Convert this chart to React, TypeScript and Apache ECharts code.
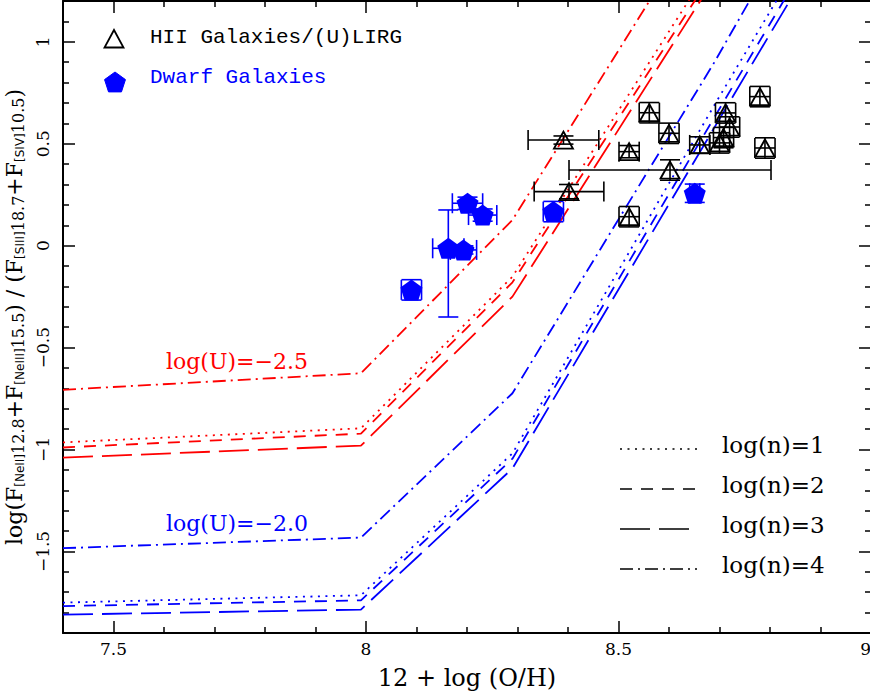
import React, { useEffect, useRef } from 'react';
import * as echarts from 'echarts';

// Photoionization model grid: 12+log(O/H)
const modelOH = [7.4, 7.99, 8.29, 8.69, 8.99];
// log(U) = -2.5 (red)
const redN1 = [-0.965, -0.896, -0.152, 1.40, 2.6];
const redN2 = [-0.99, -0.922, -0.18, 1.35, 2.55];
const redN3 = [-1.04, -0.981, -0.25, 1.31, 2.5];
const redN4 = [-0.707, -0.626, 0.126, 1.71, 2.9];
// log(U) = -2.0 (blue)
const blueN1 = [-1.751, -1.715, -1.019, 0.69, 1.94];
const blueN2 = [-1.768, -1.74, -1.045, 0.63, 1.88];
const blueN3 = [-1.81, -1.785, -1.093, 0.58, 1.83];
const blueN4 = [-1.484, -1.432, -0.724, 0.9, 2.2];

// HII Galaxies / (U)LIRG
const hiiX = [8.391, 8.402, 8.521, 8.521, 8.561, 8.6, 8.602, 8.661, 8.7, 8.708, 8.712, 8.72, 8.78, 8.79];
const hiiY = [0.518, 0.265, 0.461, 0.142, 0.652, 0.551, 0.371, 0.494, 0.504, 0.53, 0.651, 0.582, 0.731, 0.479];
const hiiXErr = [0.07, 0.069, 0.02, 0.02, 0.02, 0.02, 0.2, 0.02, 0.02, 0.02, 0.02, 0.02, 0.02, 0.02];
const hiiYErr = [0.02, 0.035, 0.03, 0.05, 0.05, 0.05, 0.05, 0.04, 0.05, 0.05, 0.05, 0.05, 0.05, 0.05];

// Dwarf galaxies
const dwarfX = [8.09, 8.163, 8.193, 8.201, 8.231, 8.371, 8.651];
const dwarfY = [-0.217, -0.013, -0.021, 0.208, 0.15, 0.167, 0.257];
const dwarfXErr = [0.02, 0.031, 0.026, 0.03, 0.028, 0.02, 0.01];
const dwarfYErrLo = [0.05, 0.337, 0.02, 0.03, 0.03, 0.05, 0.045];
const dwarfYErrHi = [0.05, 0.188, 0.02, 0.03, 0.03, 0.05, 0.045];

const legendLabels = ['log(n)=1', 'log(n)=2', 'log(n)=3', 'log(n)=4'];

const RED = '#ff0000';
const BLUE = '#0000ff';
const DOT = [2, 5.5];
const DASH = [12, 9];
const LONG = [30, 9];
const DASHDOT = [13, 5, 2, 5];
const dashes = [DOT, DASH, LONG, DASHDOT];

const SERIF = '"DejaVu Serif", serif';

const fmt = (v: number) => {
  const r = Math.round(v * 2) / 2;
  if (Math.abs(v - r) > 1e-6) return '';
  return String(r).replace('-', '\u2212');
};

const tickCommon = {
  axisLine: { show: true, onZero: false, lineStyle: { color: '#000', width: 2 } },
  axisTick: { show: true, inside: true, length: 12, lineStyle: { color: '#000', width: 1.5 } },
  minorTick: { show: true, splitNumber: 5, length: 6, lineStyle: { color: '#000', width: 1.5 } },
  splitLine: { show: false },
  minorSplitLine: { show: false },
};

function errorSeries(data: number[][], color: string, z: number) {
  return {
    type: 'custom',
    data,
    encode: { x: 0, y: 1 },
    z,
    silent: true,
    renderItem: (_p: any, api: any) => {
      const x = api.value(0);
      const y = api.value(1);
      const l = api.coord([api.value(2), y]);
      const r = api.coord([api.value(3), y]);
      const b = api.coord([x, api.value(4)]);
      const t = api.coord([x, api.value(5)]);
      const cap = 10;
      const style = { stroke: color, lineWidth: 1.6, fill: 'none' };
      const ln = (x1: number, y1: number, x2: number, y2: number) => ({
        type: 'line',
        shape: { x1, y1, x2, y2 },
        style,
      });
      return {
        type: 'group',
        children: [
          ln(l[0], l[1], r[0], r[1]),
          ln(l[0], l[1] - cap, l[0], l[1] + cap),
          ln(r[0], r[1] - cap, r[0], r[1] + cap),
          ln(b[0], b[1], t[0], t[1]),
          ln(b[0] - cap, b[1], b[0] + cap, b[1]),
          ln(t[0] - cap, t[1], t[0] + cap, t[1]),
        ],
      };
    },
  };
}

export default function App() {
  const ref = useRef<HTMLDivElement>(null);
  useEffect(() => {
    const chart = echarts.init(ref.current!, null, { renderer: 'svg' });

    const curves = [
      { d: redN1, c: RED, t: DOT },
      { d: redN2, c: RED, t: DASH },
      { d: redN3, c: RED, t: LONG },
      { d: redN4, c: RED, t: DASHDOT },
      { d: blueN1, c: BLUE, t: DOT },
      { d: blueN2, c: BLUE, t: DASH },
      { d: blueN3, c: BLUE, t: LONG },
      { d: blueN4, c: BLUE, t: DASHDOT },
    ];

    const lineSeries = curves.map((cv) => ({
      type: 'line',
      data: modelOH.map((x, i) => [x, cv.d[i]]),
      symbol: 'none',
      silent: true,
      clip: true,
      z: 2,
      lineStyle: { color: cv.c, width: 1.8, type: cv.t, cap: 'butt' },
    }));

    const hiiErr = hiiX.map((x, i) => [x, hiiY[i], x - hiiXErr[i], x + hiiXErr[i], hiiY[i] - hiiYErr[i], hiiY[i] + hiiYErr[i]]);
    const dwarfErr = dwarfX.map((x, i) => [x, dwarfY[i], x - dwarfXErr[i], x + dwarfXErr[i], dwarfY[i] - dwarfYErrLo[i], dwarfY[i] + dwarfYErrHi[i]]);

    const pent = (cx: number, cy: number, r: number) =>
      [0, 1, 2, 3, 4].map((k) => {
        const a = (-90 + 72 * k) * (Math.PI / 180);
        return [cx + r * Math.cos(a), cy + r * Math.sin(a)];
      });

    const legendY = [445, 485, 525, 565];
    const graphics: any[] = [
      {
        type: 'polygon',
        shape: { points: [[114, 30], [123.5, 47.5], [104.5, 47.5]] },
        style: { fill: 'none', stroke: '#000', lineWidth: 1.8 },
      },
      {
        type: 'text', x: 150, y: 37,
        style: { text: 'HII Galaxies/(U)LIRG', font: '21px "Liberation Mono", monospace', fill: '#000', verticalAlign: 'middle' },
      },
      {
        type: 'polygon',
        shape: { points: pent(115, 83, 11) },
        style: { fill: BLUE, stroke: BLUE, lineWidth: 1 },
      },
      {
        type: 'text', x: 150, y: 77,
        style: { text: 'Dwarf Galaxies', font: '21px "Liberation Mono", monospace', fill: BLUE, verticalAlign: 'middle' },
      },
      {
        type: 'text', x: 166, y: 361,
        style: { text: 'log(U)=\u22122.5', font: '22px ' + SERIF, fill: RED, verticalAlign: 'middle' },
      },
      {
        type: 'text', x: 166, y: 523,
        style: { text: 'log(U)=\u22122.0', font: '22px ' + SERIF, fill: BLUE, verticalAlign: 'middle' },
      },
    ];
    legendLabels.forEach((lab, i) => {
      graphics.push({
        type: 'line',
        shape: { x1: 620, y1: legendY[i] + 4, x2: 697, y2: legendY[i] + 4 },
        style: { stroke: '#000', lineWidth: 1.5, lineDash: dashes[i] },
      });
      graphics.push({
        type: 'text', x: 722, y: legendY[i],
        style: { text: lab, font: '23px ' + SERIF, fill: '#000', verticalAlign: 'middle' },
      });
    });

    const yName =
      '{m|log(F}{s|[NeII]}{n|12.8}{m|+F}{s|[NeIII]}{n|15.5}{m|) / (F}{s|[SIII]}{n|18.7}{m|+F}{s|[SIV]}{n|10.5}{m|)}';

    const option: any = {
      animation: false,
      backgroundColor: '#fff',
      grid: { left: 63, top: 1, width: 808, height: 632, containLabel: false, outerBoundsMode: 'none' },
      xAxis: [
        {
          type: 'value', min: 7.4, max: 9.0, splitNumber: 3, position: 'bottom',
          ...tickCommon,
          axisLabel: {
            formatter: fmt, margin: 7, fontFamily: SERIF, fontSize: 17, color: '#000',
            showMinLabel: true, showMaxLabel: true, hideOverlap: false, alignMaxLabel: 'right',
          },
          name: '12 + log (O/H)', nameLocation: 'middle', nameGap: 33,
          nameTextStyle: { fontFamily: SERIF, fontSize: 24, color: '#000' },
        },
        {
          type: 'value', min: 7.4, max: 9.0, splitNumber: 3, position: 'top',
          ...tickCommon,
          axisLabel: { show: false },
        },
      ],
      yAxis: [
        {
          type: 'value', min: -1.9, max: 1.2, splitNumber: 6, position: 'left',
          ...tickCommon,
          axisLabel: { formatter: fmt, rotate: 90, margin: 12, fontFamily: SERIF, fontSize: 17, color: '#000' },
          name: yName, nameLocation: 'middle', nameGap: 18,
          nameTextStyle: {
            color: '#000',
            rich: {
              m: { fontFamily: SERIF, fontSize: 22, lineHeight: 24, verticalAlign: 'middle', color: '#000' },
              s: { fontFamily: '"DejaVu Sans", sans-serif', fontSize: 12, lineHeight: 12, verticalAlign: 'bottom', color: '#000' },
              n: { fontFamily: SERIF, fontSize: 16, lineHeight: 16, verticalAlign: 'bottom', color: '#000' },
            },
          },
        },
        {
          type: 'value', min: -1.9, max: 1.2, splitNumber: 6, position: 'right',
          ...tickCommon,
          axisLabel: { show: false },
        },
      ],
      graphic: graphics,
      series: [
        ...lineSeries,
        errorSeries(hiiErr, '#000', 4),
        {
          type: 'scatter',
          data: hiiX.map((x, i) => [x, hiiY[i]]),
          symbol: 'triangle',
          symbolSize: [19, 17],
          itemStyle: { color: 'rgba(255,255,255,0)', borderColor: '#000', borderWidth: 1.8, opacity: 1 },
          z: 5,
          silent: true,
        },
        errorSeries(dwarfErr, BLUE, 4),
        {
          type: 'scatter',
          data: dwarfX.map((x, i) => [x, dwarfY[i]]),
          symbol: 'path://M0,-1L0.951,-0.309L0.588,0.809L-0.588,0.809L-0.951,-0.309Z',
          symbolSize: [22, 21],
          itemStyle: { color: BLUE, opacity: 1 },
          z: 5,
          silent: true,
        },
      ],
    };
    chart.setOption(option);
    return () => chart.dispose();
  }, []);
  return (
    <div
      ref={ref}
      style={{ position: 'fixed', left: 0, top: 0, width: 870, height: 693, background: '#fff' }}
    />
  );
}
